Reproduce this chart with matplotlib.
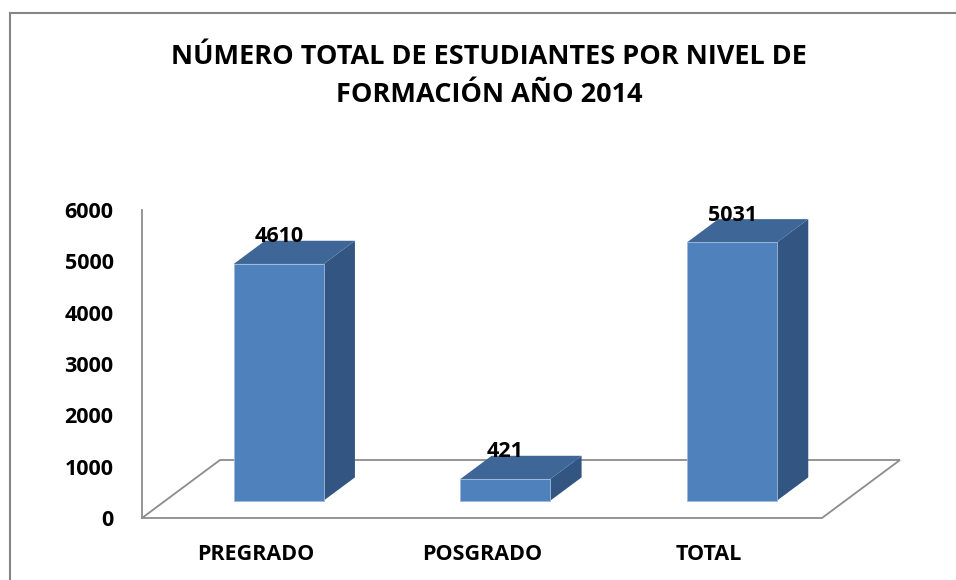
import matplotlib.pyplot as plt
from matplotlib.patches import Polygon
from matplotlib.lines import Line2D

categorias = ['PREGRADO', 'POSGRADO', 'TOTAL']
estudiantes = [4610, 421, 5031]
ticks_y = [0, 1000, 2000, 3000, 4000, 5000, 6000]
titulo = 'NÚMERO TOTAL DE ESTUDIANTES POR NIVEL DE\nFORMACIÓN AÑO 2014'

plt.rcParams['font.family'] = ['Open Sans', 'DejaVu Sans']
plt.rcParams['font.weight'] = 'bold'

W, H = 956, 580
fig = plt.figure(figsize=(W / 100, H / 100), dpi=100)
fig.patch.set_facecolor('white')

# piso frontal 142..822 px, 0 en y=518 y 6000 en y=210
cat_px = 680 / 3
ax = fig.add_axes([142 / W, (H - 518) / H, (900 - 142) / W, (518 - 210) / H])
ax.set_xlim(-0.5, -0.5 + 758 / cat_px)
ax.set_ylim(0, 6000)
ax.set_facecolor('none')

# profundidad del piso (en unidades de datos)
px_y = 6000 / 308
dx_piso = 78 / cat_px
dy_piso = 58 * px_y
# barra: ancho y posicion dentro de la profundidad
ancho = 90 / cat_px
f0, f1 = 0.3, 0.7

gris = '#8c8c8c'
piso = [(-0.5, 0), (2.5, 0), (2.5 + dx_piso, dy_piso), (-0.5 + dx_piso, dy_piso)]
ax.add_patch(Polygon(piso, closed=True, fill=False, edgecolor=gris, lw=1.3, zorder=1, clip_on=False))

c_frente = '#4f81bd'
c_techo = '#3e6797'
c_lado = '#335581'
for i, v in enumerate(estudiantes):
    x0 = i - ancho / 2 + f0 * dx_piso
    y0 = f0 * dy_piso
    ddx = (f1 - f0) * dx_piso
    ddy = (f1 - f0) * dy_piso
    x1 = x0 + ancho
    frente = [(x0, y0), (x1, y0), (x1, y0 + v), (x0, y0 + v)]
    techo = [(x0, y0 + v), (x1, y0 + v), (x1 + ddx, y0 + v + ddy), (x0 + ddx, y0 + v + ddy)]
    lado = [(x1, y0), (x1 + ddx, y0 + ddy), (x1 + ddx, y0 + v + ddy), (x1, y0 + v)]
    ax.add_patch(Polygon(lado, closed=True, facecolor=c_lado, edgecolor='none', zorder=3, clip_on=False))
    ax.add_patch(Polygon(techo, closed=True, facecolor=c_techo, edgecolor='none', zorder=3, clip_on=False))
    ax.add_patch(Polygon(frente, closed=True, facecolor=c_frente, edgecolor='#9fb8da', lw=0.6, zorder=4, clip_on=False))
    ax.annotate(str(v), xy=(i + f0 * dx_piso, y0 + v), xytext=(0, 19.5), textcoords='offset points',
                ha='center', va='center', fontsize=15.5, fontweight='bold', color='black', zorder=5)

for s in ['top', 'right', 'bottom']:
    ax.spines[s].set_visible(False)
ax.spines['left'].set_color(gris)
ax.spines['left'].set_linewidth(1.3)
ax.spines['left'].set_bounds(0, 6000)

ax.set_yticks(ticks_y)
ax.set_yticklabels([str(t) for t in ticks_y], fontsize=15.5, fontweight='bold')
ax.set_xticks(range(len(categorias)))
ax.set_xticklabels(categorias, fontsize=15.5, fontweight='bold')
ax.tick_params(axis='y', length=0, pad=20.5)
ax.tick_params(axis='x', length=0, pad=19)

fig.text(489 / W, 1 - 76 / H, titulo, ha='center', va='center', fontsize=19.5,
         fontweight='bold', linespacing=1.65)

# marco del grafico (recortado a la derecha y abajo)
fig.add_artist(Line2D([9.5 / W, 9.5 / W], [0, 1 - 13 / H], transform=fig.transFigure, color='#868686', lw=1.5))
fig.add_artist(Line2D([9.5 / W, 1], [1 - 13 / H, 1 - 13 / H], transform=fig.transFigure, color='#868686', lw=1.5))

fig.savefig('out.png', dpi=100)
